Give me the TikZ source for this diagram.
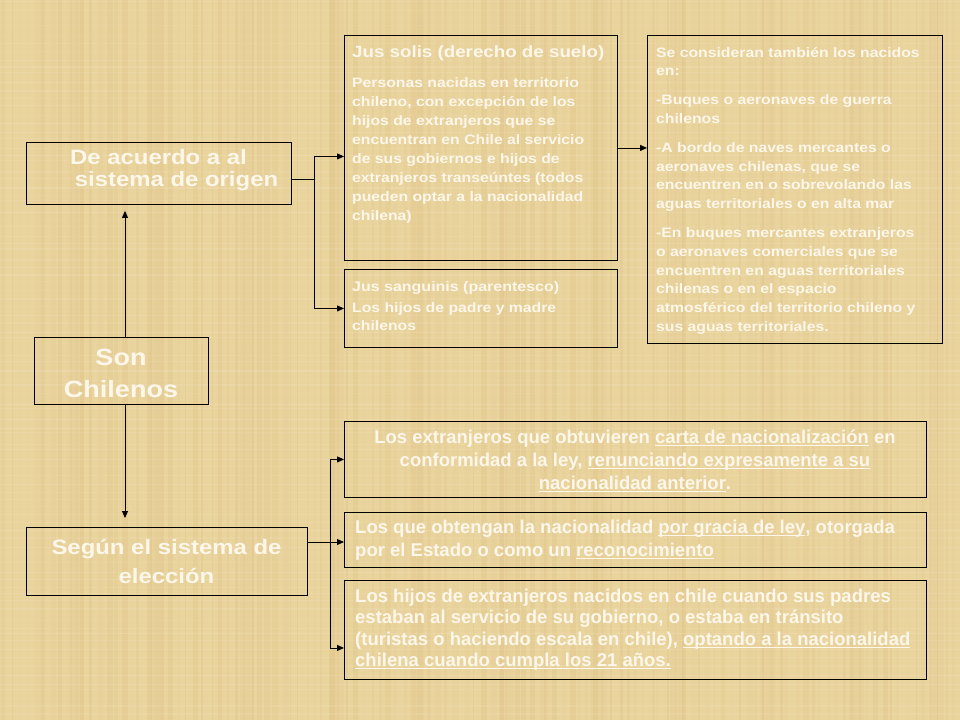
\documentclass[tikz,border=0pt]{standalone}
\usepackage{fontspec}
\setmainfont{Liberation Sans}
\newfontfamily\fa{Liberation Sans}
\newfontfamily\fb{Liberation Sans}[FakeStretch=1.15]
\usetikzlibrary{arrows.meta,calc}
\definecolor{paper}{RGB}{234,212,158}
\definecolor{paperD}{RGB}{196,160,92}
\definecolor{txt}{RGB}{252,247,234}
\newcommand\myul[1]{\setbox0\hbox{#1}\rlap{\rule[-2.6pt]{\wd0}{1.1pt}}\box0\relax}
\begin{document}
\begin{tikzpicture}[x=1pt,y=-1pt,
  box/.style={draw=black, line width=0.9pt, inner sep=0pt, anchor=north west},
  arr/.style={-{Triangle[length=7pt,width=6pt]}, line width=0.9pt},
  lab/.style={text=txt, inner sep=0pt}]
\useasboundingbox (0,0) rectangle (960,720);
% background parchment
\pgfmathsetseed{12}
\fill[paper] (0,0) rectangle (960,720);
\foreach \i in {0,...,119}{
  \pgfmathsetmacro\xx{\i*8+4*rnd}
  \pgfmathsetmacro\ww{1+5*rnd}
  \pgfmathsetmacro\oo{0.03+0.10*rnd}
  \fill[paperD, opacity=\oo] (\xx,0) rectangle ++(\ww,720);
}
\foreach \x in {70,150,240,330,410,500,590,670,760,850,930}{
  \fill[paperD, opacity=0.07] (\x,0) rectangle ++(14,720);
}
\foreach \j in {0,...,89}{
  \pgfmathsetmacro\yy{\j*8+4*rnd}
  \pgfmathsetmacro\oo{0.04+0.08*rnd}
  \fill[white, opacity=\oo] (0,\yy) rectangle ++(960,1.2);
}
% boxes
\node[box, minimum width=265pt, minimum height=62pt] (acuerdo) at (26,142) {};
\node[box, minimum width=174pt, minimum height=67pt] (son) at (34,337) {};
\node[box, minimum width=281pt, minimum height=68pt] (segun) at (26,527) {};
\node[box, minimum width=273pt, minimum height=225pt] (solis) at (344,35) {};
\node[box, minimum width=273pt, minimum height=78pt] (sang) at (344,269) {};
\node[box, minimum width=295pt, minimum height=308pt] (tamb) at (647,35) {};
\node[box, minimum width=582pt, minimum height=76pt] (ext) at (344,421) {};
\node[box, minimum width=582pt, minimum height=55pt] (gracia) at (344,512) {};
\node[box, minimum width=582pt, minimum height=99pt] (hijos) at (344,580) {};
% texts (base anchor = baseline of last line)
\node[lab, anchor=base, align=center, font=\fb\bfseries\fontsize{20.8}{22}\selectfont] (acuerdoT) at (158.5,186) {De acuerdo a al\\\hspace*{36pt}sistema de origen};
\node[lab, anchor=base, align=center, font=\fb\bfseries\fontsize{23.5}{32}\selectfont] (sonT) at (121,397) {Son\\Chilenos};
\node[lab, anchor=base, align=center, font=\fb\bfseries\fontsize{20.8}{29}\selectfont] (segunT) at (166.5,583) {Según el sistema de\\elección};
\node[lab, anchor=base west, font=\fb\bfseries\fontsize{16.3}{19}\selectfont] (solisH) at (352,57) {Jus solis (derecho de suelo)};
\node[lab, anchor=base west, align=left, font=\fb\bfseries\fontsize{13.7}{19}\selectfont] (solisB) at (352,220) {Personas nacidas en territorio\\
chileno, con excepción de los\\
hijos de extranjeros que se\\
encuentran en Chile al servicio\\
de sus gobiernos e hijos de\\
extranjeros transeúntes (todos\\
pueden optar a la nacionalidad\\
chilena)};
\node[lab, anchor=base west, font=\fb\bfseries\fontsize{13.9}{18}\selectfont] (sangH) at (352,291) {Jus sanguinis (parentesco)};
\node[lab, anchor=base west, align=left, font=\fb\bfseries\fontsize{13.7}{18}\selectfont] (sangB) at (352,330) {Los hijos de padre y madre\\chilenos};
\node[lab, anchor=base west, align=left, font=\fb\bfseries\fontsize{13.7}{18.8}\selectfont] (tambT) at (656,331.5) {Se consideran también los nacidos\\
en:\\[10pt]
-Buques o aeronaves de guerra\\
chilenos\\[10pt]
-A bordo de naves mercantes o\\
aeronaves chilenas, que se\\
encuentren en o sobrevolando las\\
aguas territoriales o en alta mar\\[10pt]
-En buques mercantes extranjeros\\
o aeronaves comerciales que se\\
encuentren en aguas territoriales\\
chilenas o en el espacio\\
atmosférico del territorio chileno y\\
sus aguas territoriales.};
\node[lab, anchor=base, align=center, font=\fa\bfseries\fontsize{18.5}{23}\selectfont] (extT) at (635,489) {Los extranjeros que obtuvieren \myul{carta de nacionalización} en\\
conformidad a la ley, \myul{renunciando expresamente a su}\\
\myul{nacionalidad anterior}.};
\node[lab, anchor=base west, align=left, font=\fa\bfseries\fontsize{18.5}{23.5}\selectfont] (graciaT) at (355,556.5) {Los que obtengan la nacionalidad \myul{por gracia de ley}, otorgada\\
por el Estado o como un \myul{reconocimiento}};
\node[lab, anchor=base west, align=left, font=\fa\bfseries\fontsize{18.5}{21.5}\selectfont] (hijosT) at (355,666.5) {Los hijos de extranjeros nacidos en chile cuando sus padres\\
estaban al servicio de su gobierno, o estaba en tránsito\\
(turistas o haciendo escala en chile), \myul{optando a la nacionalidad}\\
\myul{chilena cuando cumpla los 21 años.}};
% connectors
\coordinate (b1) at (314,179);
\draw[line width=0.9pt] (acuerdo.east |- b1) -- (b1);
\draw[arr] (b1) |- ($(solis.west)+(0,8.5)$);
\draw[arr] (b1) |- (sang.west);
\draw[arr] (solis.east) -- (solis.east -| tamb.west);
\coordinate (sx) at (125,0);
\draw[arr, shorten >=6pt] (son.north -| sx) -- (acuerdo.south -| sx);
\draw[arr, shorten >=9pt] (son.south -| sx) -- (segun.north -| sx);
\coordinate (b2) at (330,542);
\draw[line width=0.9pt] (segun.east |- b2) -- (b2);
\draw[arr] (b2) -- (b2 -| gracia.west);
\draw[arr] (b2) |- (ext.west);
\draw[arr] (b2) |- ($(hijos.west)+(0,18)$);
\end{tikzpicture}
\end{document}
